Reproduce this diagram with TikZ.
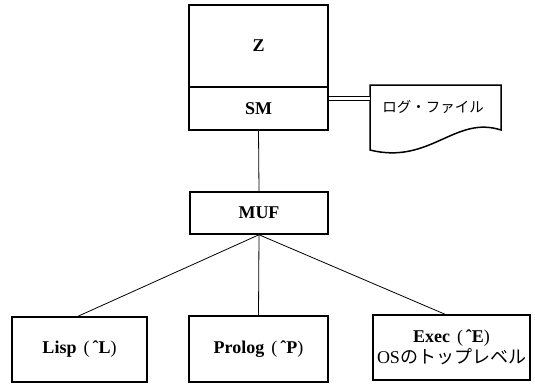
\documentclass[tikz,border=0pt]{standalone}
\usepackage{fontspec}
\setmainfont{Liberation Serif}
\newfontfamily\jp{Noto Sans CJK JP}
% control-key label: name (^X)
\newcommand{\ctrlkey}[2]{#1\hspace{7pt}{\mdseries(}\,ˆ#2{\mdseries)}}
\begin{document}
\begin{tikzpicture}[x=1pt,y=-1pt,
  box/.style={draw,line width=1.5pt,inner sep=0pt,font=\bfseries\fontsize{18}{21}\selectfont,align=center},
  link/.style={line width=0.8pt},
  jtext/.style={font=\jp\fontsize{14.5}{17}\selectfont}]
\useasboundingbox (0,0) rectangle (535,384);

% system stack
\node[box,minimum width=139pt,minimum height=82pt] (z) at (258.5,46) {Z};
\node[box,minimum width=139pt,minimum height=43pt] (sm) at (258.5,108.5) {SM};
\node[box,minimum width=138pt,minimum height=42pt] (muf) at (259,213) {MUF};

% subsystems
\node[box,minimum width=135pt,minimum height=65pt] (lisp) at (79.5,349.5) {\ctrlkey{Lisp}{L}};
\node[box,minimum width=139pt,minimum height=66pt] (prolog) at (258.5,349) {\ctrlkey{Prolog}{P}};
\node[box,minimum width=157pt,minimum height=65pt] (exec) at (451.5,347.5)
  {\ctrlkey{Exec}{E}\\[0pt]{\mdseries OS\jp のトップレベル}};

% log file (document shape)
\draw[line width=1.5pt] (370,85) -- (501,85) -- (501,130)
  .. controls (455,115) and (430,165) .. (370,150) -- cycle;
\node[jtext] (log) at (433,107) {ログ・ファイル};
\coordinate (login) at (370,98.5);

% connectors
\draw[line width=0.9pt,double,double distance=3pt] (sm.east |- login) -- (login);
\draw[link] (sm.south) -- (muf.north);
\draw[link] (muf.south) -- (lisp.north -| 78,0);
\draw[link] (muf.south) -- (prolog.north);
\draw[link] (muf.south) -- (exec.north -| 445,0);
\end{tikzpicture}
\end{document}
